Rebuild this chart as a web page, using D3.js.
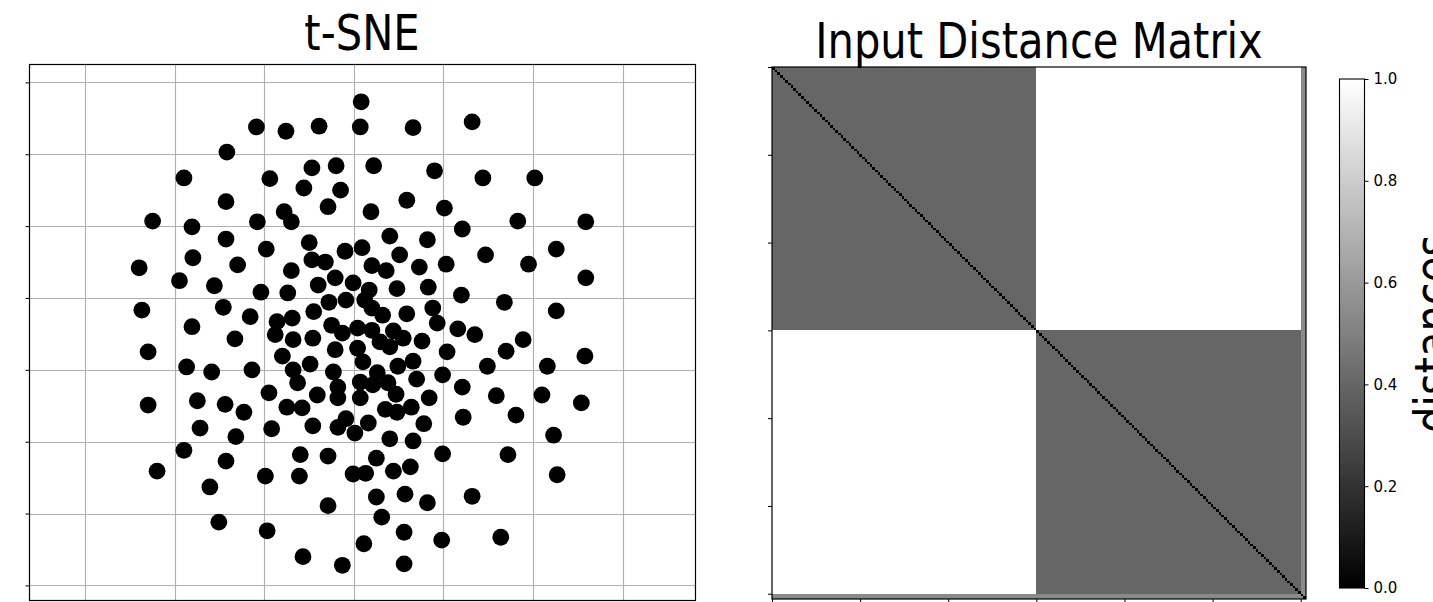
<!DOCTYPE html>
<html>
<head>
<meta charset="utf-8">
<script src="https://cdn.jsdelivr.net/npm/d3@7"></script>
<style>
  body { margin: 0; background: white; }
  svg { display: block; font-family: 'DejaVu Sans', sans-serif; }
</style>
</head>
<body>
<script>
// t-SNE embedding (x, y)
var tsnePoints = [
  [0.8,27.3],[-10.9,23.8],[-7.6,23.2],[-3.9,23.9],[0.7,23.8],[6.6,23.7],[13.2,24.5],
  [-14.2,20.3],[-19.0,16.7],[-9.4,16.6],[-4.7,18.1],[-2.0,18.4],[2.2,18.4],[9.0,17.7],
  [14.4,16.7],[20.2,16.7],[-5.6,15.3],[-1.5,15.0],
  [-14.3,13.4],[-2.9,12.7],[1.9,12.0],[5.9,13.6],[10.1,12.5],[-22.5,10.7],[-18.1,9.9],
  [-10.8,10.6],[-7.8,12.0],[-7.0,10.6],[12.1,9.6],[18.3,10.7],[25.9,10.6],[-14.3,8.2],
  [-5.0,7.7],[-9.8,6.8],[-1.0,6.5],[0.9,7.0],[4.0,8.6],[8.2,8.1],[-4.7,5.3],[-3.2,5.0],
  [5.1,6.0],[14.7,6.0],[22.6,6.8],[-18.0,5.6],[-24.0,4.2],
  [-13.0,4.6],[-7.0,3.8],[2.0,4.5],[3.6,3.8],[7.3,4.3],[10.3,4.7],[19.5,4.7],[25.9,2.8],
  [-19.5,2.4],[-15.6,1.7],[-2.1,2.8],[-4.0,1.8],[-0.1,2.1],[1.7,1.1],[4.8,1.3],[8.3,1.5],
  [-10.4,0.8],[-7.4,0.7],[12.0,0.4],
  [-23.7,-1.7],[-14.6,-1.3],[-11.6,-2.6],[-8.6,-3.3],[-6.9,-2.8],[-4.5,-1.9],[-2.8,-0.6],
  [-0.9,-0.3],[1.2,-0.3],[2.0,-1.4],[3.2,-2.4],[5.9,-2.2],[8.8,-1.4],[16.8,-0.6],[22.6,-1.8],
  [9.3,-3.5],[11.6,-4.3],[13.5,-5.1],[18.9,-5.8],[-18.1,-4.0],[-13.3,-5.7],[-8.8,-5.1],
  [-6.8,-5.8],[-4.6,-5.6],[-2.5,-3.8],[-1.3,-4.9],[0.4,-4.2],[2.0,-4.5],[2.9,-6.1],
  [4.4,-4.6],[5.5,-5.6],[7.6,-6.0],
  [-23.0,-7.5],[-8.0,-8.1],[-2.1,-7.2],[0.4,-7.0],[1.0,-8.9],[4.0,-6.8],[6.6,-8.8],
  [10.4,-7.5],[17.0,-7.4],[25.8,-8.1],[-18.7,-9.6],[-15.9,-10.3],[-11.4,-10.0],[-6.8,-10.0],
  [-4.9,-9.2],[-2.3,-10.3],[2.6,-10.4],[4.9,-9.5],[9.9,-10.7],[14.9,-9.5],[21.6,-9.5],
  [-6.3,-11.8],[-1.8,-12.4],[0.7,-11.7],[2.1,-12.1],[3.8,-11.8],[4.7,-13.4],[7.0,-11.3],
  [12.1,-12.4],[-9.5,-13.2],[-4.1,-13.5],[-1.8,-13.9],[0.7,-13.9],[8.4,-13.9],[15.9,-13.6],
  [21.0,-13.5],
  [-23.0,-14.9],[-17.5,-14.3],[-14.4,-14.8],[-12.3,-15.9],[-7.5,-15.2],[-5.8,-15.3],
  [3.5,-15.5],[4.8,-15.9],[6.4,-15.2],[12.2,-16.6],[18.1,-16.3],[25.4,-14.6],[-17.2,-18.1],
  [-13.2,-19.3],[-9.2,-18.2],[-4.6,-17.8],[-1.8,-18.0],[-0.9,-16.8],[1.6,-17.4],[0.1,-18.8],
  [4.0,-19.6],[6.6,-19.9],[7.8,-17.5],[22.3,-19.1],[-19.0,-21.2],[-14.3,-22.7],[-6.0,-21.8],
  [-2.9,-22.0],[2.5,-22.3],[9.9,-21.7],[17.2,-21.8],
  [-22.0,-24.1],[-9.9,-24.8],[-6.1,-24.8],[-0.1,-24.5],[1.3,-24.4],[4.4,-24.1],[6.3,-23.5],
  [22.7,-24.6],[-16.1,-26.3],[2.5,-27.7],[5.7,-27.3],[8.2,-28.5],[13.2,-27.6],[-2.9,-28.9],
  [3.1,-30.5],[-15.1,-31.2],[-9.7,-32.4],[5.6,-32.6],[9.8,-33.7],[16.4,-33.3],[1.1,-34.2],
  [-5.7,-36.0],[-1.3,-37.2],[5.6,-37.0]
];
var tsneXTicks = [-30, -20, -10, 0, 10, 20, 30];
var tsneYTicks = [-40, -30, -20, -10, 0, 10, 20, 30];

// distance matrix: two groups plus a couple of stray points
var groupSizes = [100, 100, 2];
var groupDistances = [
  [0.4, 1.0, 0.54],
  [1.0, 0.4, 0.54],
  [0.54, 0.54, 0.54]
];
var selfDistance = 0;
var matrixTicks = [0, 33.33, 66.67, 100, 133.33, 166.67, 200];
var colorbarTicks = [0, 0.2, 0.4, 0.6, 0.8, 1.0];

var svg = d3.select('body').append('svg')
  .attr('width', 1433)
  .attr('height', 602);

// ---- left: t-SNE scatter ----
var x = d3.scaleLinear().domain([-36.31, 38.10]).range([29, 695]);
var y = d3.scaleLinear().domain([-42.17, 32.42]).range([601, 65]);

var left = svg.append('g');

left.selectAll('.vgrid').data(tsneXTicks).enter().append('line')
  .attr('x1', function(d) { return Math.round(x(d)) + 0.5; })
  .attr('x2', function(d) { return Math.round(x(d)) + 0.5; })
  .attr('y1', y.range()[1])
  .attr('y2', y.range()[0])
  .style('stroke', '#b0b0b0')
  .style('stroke-width', 1.1);

left.selectAll('.hgrid').data(tsneYTicks).enter().append('line')
  .attr('x1', x.range()[0])
  .attr('x2', x.range()[1])
  .attr('y1', function(d) { return Math.round(y(d)) + 0.5; })
  .attr('y2', function(d) { return Math.round(y(d)) + 0.5; })
  .style('stroke', '#b0b0b0')
  .style('stroke-width', 1.1);

left.selectAll('circle').data(tsnePoints).enter().append('circle')
  .attr('cx', function(d) { return x(d[0]); })
  .attr('cy', function(d) { return y(d[1]); })
  .attr('r', 8.4)
  .style('fill', 'black');

left.append('g')
  .attr('transform', 'translate(29.5,0)')
  .call(d3.axisLeft(y).tickValues(tsneYTicks).tickSize(4).tickFormat(''))
  .call(function(g) { g.select('.domain').remove(); });

left.append('rect')
  .attr('x', 29.5).attr('y', 64.5)
  .attr('width', 666).attr('height', 536)
  .style('fill', 'none')
  .style('stroke', 'black')
  .style('stroke-width', 1.2);

left.append('text')
  .attr('transform', 'translate(362,50) scale(0.85,1)')
  .attr('text-anchor', 'middle')
  .style('font-size', '49px')
  .text('t-SNE');

// ---- right: distance matrix ----
var groupOf = [];
groupSizes.forEach(function(n, g) {
  for (var i = 0; i < n; i++) groupOf.push(g);
});
var N = groupOf.length;

var mx = d3.scaleLinear().domain([0, N]).range([772, 1306]);
var my = d3.scaleLinear().domain([0, N]).range([67, 599]);
var grey = d3.scaleLinear().domain([0, 1]).range(['#000000', '#ffffff']);

var canvas = document.createElement('canvas');
canvas.width = N;
canvas.height = N;
var ctx = canvas.getContext('2d');
var img = ctx.createImageData(N, N);
for (var i = 0; i < N; i++) {
  for (var j = 0; j < N; j++) {
    var v = i === j ? selfDistance : groupDistances[groupOf[i]][groupOf[j]];
    var c = d3.rgb(grey(v));
    var k = (i * N + j) * 4;
    img.data[k] = c.r;
    img.data[k + 1] = c.g;
    img.data[k + 2] = c.b;
    img.data[k + 3] = 255;
  }
}
ctx.putImageData(img, 0, 0);

var right = svg.append('g');

right.append('image')
  .attr('x', mx(0)).attr('y', my(0))
  .attr('width', mx(N) - mx(0))
  .attr('height', my(N) - my(0))
  .attr('preserveAspectRatio', 'none')
  .style('image-rendering', 'pixelated')
  .attr('href', canvas.toDataURL());

right.append('g')
  .attr('transform', 'translate(772,0)')
  .call(d3.axisLeft(my).tickValues(matrixTicks).tickSize(4).tickFormat(''))
  .call(function(g) { g.select('.domain').remove(); });

right.append('g')
  .attr('transform', 'translate(0,599)')
  .call(d3.axisBottom(mx).tickValues(matrixTicks).tickSize(4).tickFormat(''))
  .call(function(g) { g.select('.domain').remove(); });

right.append('rect')
  .attr('x', 772).attr('y', 67)
  .attr('width', 534).attr('height', 532)
  .style('fill', 'none')
  .style('stroke', 'black')
  .style('stroke-width', 1.2);

right.append('text')
  .attr('transform', 'translate(1039,58) scale(0.85,1)')
  .attr('text-anchor', 'middle')
  .style('font-size', '49px')
  .text('Input Distance Matrix');

// ---- colorbar ----
var cb = d3.scaleLinear().domain([0, 1]).range([588, 79]);

var grad = svg.append('defs').append('linearGradient')
  .attr('id', 'greys')
  .attr('x1', 0).attr('y1', 1)
  .attr('x2', 0).attr('y2', 0);
grad.selectAll('stop').data(d3.range(0, 1.01, 0.1)).enter().append('stop')
  .attr('offset', function(d) { return d; })
  .attr('stop-color', function(d) { return grey(d); });

svg.append('rect')
  .attr('x', 1339.5).attr('y', cb(1))
  .attr('width', 25).attr('height', cb(0) - cb(1))
  .style('fill', 'url(#greys)')
  .style('stroke', 'black')
  .style('stroke-width', 1.1);

svg.append('g')
  .attr('transform', 'translate(1364.5,0)')
  .call(d3.axisRight(cb).tickValues(colorbarTicks).tickSize(4).tickPadding(5)
    .tickFormat(d3.format('.1f')))
  .call(function(g) {
    g.select('.domain').remove();
    g.selectAll('text')
      .style('font-size', '15px')
      .style('font-family', 'DejaVu Sans, sans-serif')
      .attr('fill', 'black');
  });

// colorbar label runs off the right edge, as in the original figure
svg.append('text')
  .attr('transform', 'translate(1450,334) rotate(-90) scale(0.85,1)')
  .attr('text-anchor', 'middle')
  .style('font-size', '49px')
  .text('distances');
</script>
</body>
</html>
